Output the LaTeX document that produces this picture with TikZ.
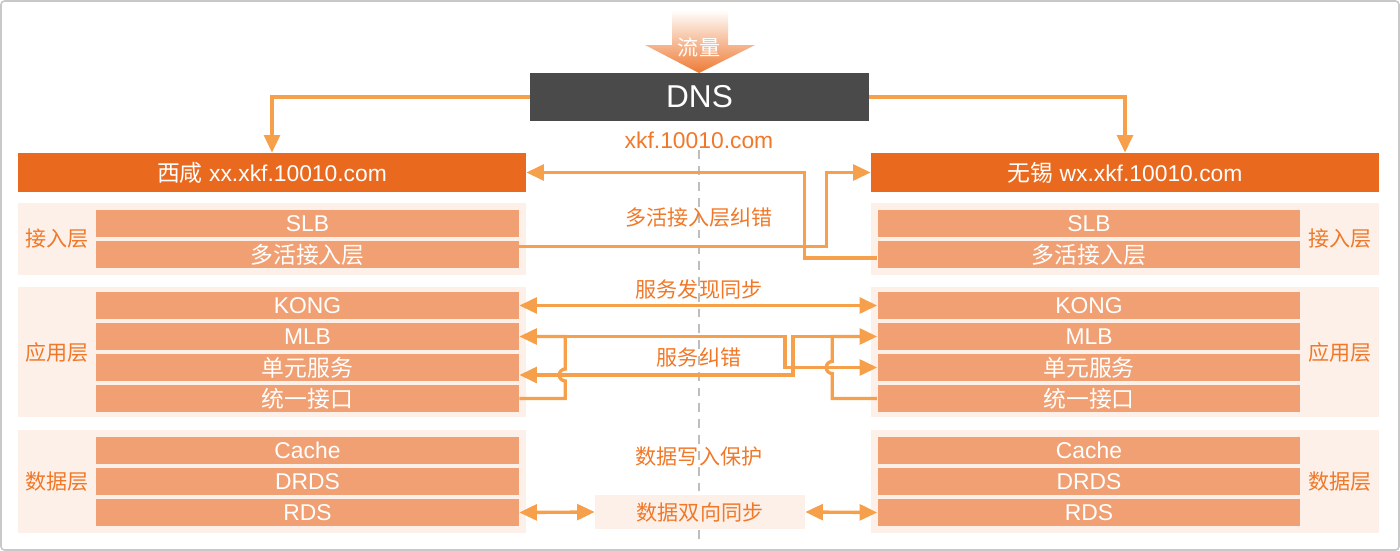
\documentclass[tikz,border=0pt]{standalone}
\usepackage{fontspec}
\setmainfont{Liberation Sans}
\newfontfamily\cjk{Noto Sans CJK SC}
\usetikzlibrary{arrows.meta, calc}

\definecolor{hdorange}{RGB}{233,105,31}
\definecolor{barorange}{RGB}{240,160,115}
\definecolor{bgpeach}{RGB}{253,240,232}
\definecolor{linkorange}{RGB}{247,160,75}
\definecolor{txtorange}{RGB}{240,120,40}
\definecolor{floworange}{RGB}{238,122,52}
\definecolor{dnsgray}{RGB}{74,74,74}
\definecolor{framegray}{RGB}{200,200,200}
\definecolor{axisgray}{RGB}{190,190,190}

\tikzset{
  region/.style={fill=hdorange, text=white, minimum width=10.16cm, minimum height=0.78cm, inner sep=0pt, font=\fontsize{13}{15}\selectfont},
  layerbg/.style={fill=bgpeach, minimum width=10.16cm, inner sep=0pt},
  bar/.style={fill=barorange, text=white, minimum width=8.46cm, minimum height=0.54cm, inner sep=0pt, font=\fontsize{13}{15}\selectfont},
  tag/.style={text=txtorange, inner sep=0pt, font=\cjk\fontsize{12}{14}\selectfont},
  link/.style={draw=linkorange, line width=1.9pt, -{Triangle[length=10pt, width=9pt]}},
  dlink/.style={link, {Triangle[length=10pt, width=9pt]}-{Triangle[length=10pt, width=9pt]}},
}

\begin{document}
\begin{tikzpicture}[x=0.02cm, y=-0.02cm]
  \useasboundingbox (0,0) rectangle (1400,551);
  \draw[framegray, line width=0.9pt, rounded corners=2pt] (1,1) rectangle (1399,550);

  % traffic into DNS
  \shade[top color=white, bottom color=floworange] (672,10) -- (728,10) -- (728,45) -- (755,45) -- (699,73) -- (645,45) -- (672,45) -- cycle;
  \node[text=white, inner sep=0pt, font=\cjk\fontsize{12}{14}\selectfont] (flow) at (699,47) {流量};

  \node[fill=dnsgray, text=white, minimum width=6.78cm, minimum height=0.96cm, inner sep=0pt, font=\fontsize{18}{20}\selectfont] (dns) at (699.5,97) {DNS};
  \node[text=txtorange, inner sep=1pt, font=\fontsize{13}{15}\selectfont] (url) at (699,140) {xkf.10010.com};
  \coordinate (axisend) at (699,540);
  \draw[axisgray, line width=0.6pt, dash pattern=on 5pt off 4pt] (url.south) -- (axisend);

  \node[region] (lhead) at (272,172.5) {{\cjk 西咸} xx.xkf.10010.com};
  \node[region] (rhead) at (1125,172.5) {{\cjk 无锡} wx.xkf.10010.com};

  % layer backgrounds
  \foreach \nm/\y/\h in {acc/239/1.44cm, app/352/2.6cm, dat/481.5/2.06cm} {
    \node[layerbg, minimum height=\h] (lbg\nm) at (272,\y) {};
    \node[layerbg, minimum height=\h] (rbg\nm) at (1125,\y) {};
  }
  \foreach \nm/\txt/\y in {acc/接入层/239, app/应用层/352, dat/数据层/481.5} {
    \node[tag] (ltag\nm) at (57,\y) {\txt};
    \node[tag] (rtag\nm) at (1340,\y) {\txt};
  }

  \foreach \nm/\txt/\y in {slb/SLB/223.5, multi/{\cjk 多活接入层}/254.5, kong/KONG/305.5, mlb/MLB/336.5, svc/{\cjk 单元服务}/367.5, unif/{\cjk 统一接口}/398.5, cache/Cache/450.5, drds/DRDS/481.5, rds/RDS/512.5} {
    \node[bar] (l\nm) at (307.5,\y) {\txt};
    \node[bar] (r\nm) at (1089,\y) {\txt};
  }

  % DNS split
  \draw[link] (dns.west) -| (lhead.north);
  \draw[link] (dns.east) -| (rhead.north);

  % access layer correction
  \node[tag] (fixacc) at (699,218) {多活接入层纠错};
  \draw[link] ($(lmulti.east)+(0,-8)$) -- ++(307,0) |- (rhead.west);
  \draw[link] ($(rmulti.west)+(0,3.5)$) -- ++(-73,0) |- (lhead.east);

  % service discovery
  \node[tag] (discover) at (699,289) {服务发现同步};
  \draw[dlink] (lkong.east) -- (rkong.west);

  % service correction
  \node[tag] (fixsvc) at (699,357) {服务纠错};
  \coordinate (ljoin) at (565,336.5);
  \coordinate (rjoin) at (832,336.5);
  \draw[link] (lunif.east) -- ++(46,0) -- ++(0,-17.5) arc[start angle=90, end angle=270, radius=6] |- (lmlb.east);
  \draw[link] (ljoin) -- ++(220,0) |- (rsvc.west);
  \draw[link] (runif.west) -- ++(-45,0) -- ++(0,-25) arc[start angle=90, end angle=270, radius=6] |- (rmlb.west);
  \draw[link] (rjoin) -- ++(-39,0) |- ($(lsvc.east)+(0,7.5)$);

  % data layer
  \node[tag] (protect) at (699,457) {数据写入保护};
  \node[tag, fill=bgpeach, minimum width=4.2cm, minimum height=0.68cm] (sync) at (700,512) {数据双向同步};
  \draw[dlink] (lrds.east) -- (sync.west);
  \draw[dlink] (sync.east) -- (rrds.west);
\end{tikzpicture}
\end{document}
